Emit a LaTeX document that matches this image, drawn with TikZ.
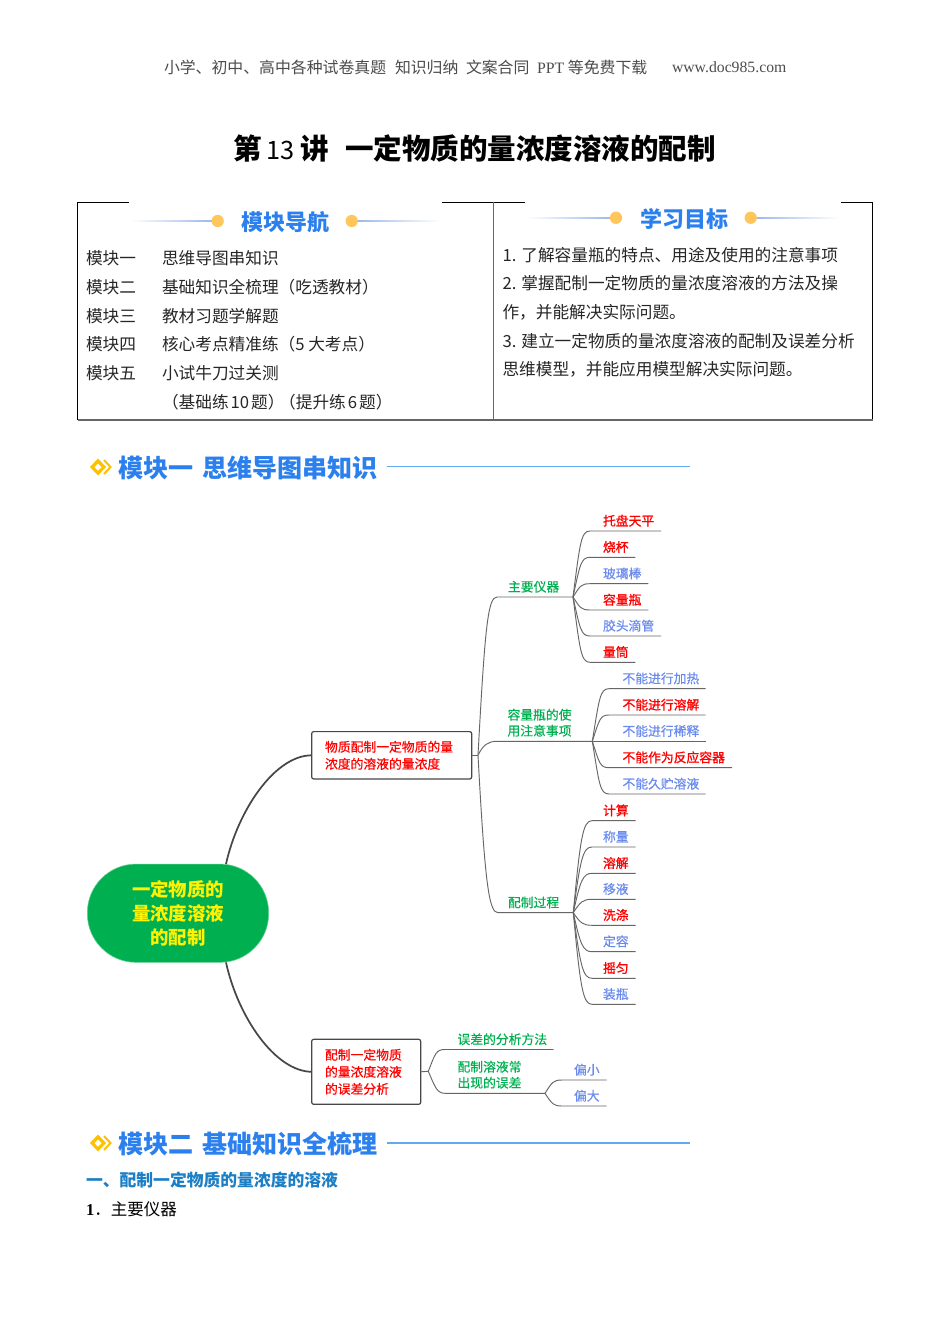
\documentclass[tikz,border=0pt]{standalone}
\usepackage{fontspec}
\setmainfont{Noto Sans CJK SC}
\newfontfamily\serifl{Liberation Serif}
\newfontfamily\medf[FakeBold=0.5]{Noto Sans CJK SC}
\newfontfamily\redf[FakeBold=1.1]{Noto Sans CJK SC}
\usetikzlibrary{calc}
\definecolor{mgreen}{HTML}{00B050}
\definecolor{mred}{HTML}{FF0000}
\definecolor{mblue}{HTML}{6A8BEE}
\definecolor{hblue}{HTML}{2B80EE}
\definecolor{hline}{HTML}{62AAF0}
\definecolor{sblue}{HTML}{1C7FC6}
\definecolor{dotc}{HTML}{FFC65C}
\definecolor{navl}{HTML}{9DB8EA}
\definecolor{iconc}{HTML}{FFC000}
\newcommand{\fs}[2]{\fontsize{#1}{#2}\selectfont}
\tikzset{
  every node/.style={inner sep=0pt,outer sep=0pt},
  lbl/.style={anchor=west,align=left,font=\fs{9.6}{12}\medf},
  gtxt/.style={lbl,text=mgreen},
  rtxt/.style={lbl,text=mred,font=\fs{9.6}{12}\redf},
  btxt/.style={lbl,text=mblue},
  listtxt/.style={anchor=west,font=\fs{12.5}{15},text=black!85},
  hdr/.style={anchor=west,font=\fs{11.9}{14},text=black!70},
  navtitle/.style={anchor=center,font=\fs{16.5}{20}\bfseries,text=hblue},
  modtitle/.style={anchor=west,font=\fs{18.8}{23}\bfseries,text=hblue},
  branch/.style={draw=black!60,line width=0.7pt},
  mainconn/.style={draw=black!72,line width=1.3pt},
  boxn/.style={draw=black!72,line width=0.9pt,rounded corners=1.5pt,fill=white,text=mred,align=left,font=\fs{9.6}{12.8}\medf,inner xsep=10pt,anchor=center},
  frameln/.style={draw=black,line width=0.6pt},
  frameg/.style={draw=black!60,line width=0.8pt},
}
% name, junction, start x, y, end x, text x, style, text
\newcommand{\leaf}[8]{%
  \coordinate (#1s) at (#3,#4);
  \coordinate (#1e) at (#5,#4);
  \node[#7] (#1) at (#6,#4-10.3) {#8};
  \draw[branch] (#2) .. controls ($(#2)!0.82!(#2 |- #1s)+(7,0)$) and ($(#1s)+(-9,0)$) .. (#1s) -- (#1e);
}
\newcommand{\modicon}[3]{%
  \fill[iconc] (#2-8,#3) -- (#2,#3-8.5) -- (#2+8,#3) -- (#2,#3+8.5) -- cycle;
  \fill[white] (#2-3.5,#3) -- (#2,#3-3.5) -- (#2+3.5,#3) -- (#2,#3+3.5) -- cycle;
  \coordinate (#1a) at (#2+6,#3-7);
  \coordinate (#1b) at (#2+12.5,#3);
  \coordinate (#1c) at (#2+6,#3+7);
  \draw[iconc,line width=1.5pt] (#1a) -- (#1b) -- (#1c);
}
\begin{document}
\begin{tikzpicture}[x=0.75pt,y=-0.75pt]
\useasboundingbox (0,0) rectangle (950,1344);
\fill[white] (0,0) rectangle (950,1344);

% page header
\node[hdr] (h1) at (164,67) {小学、初中、高中各种试卷真题};
\node[hdr] (h2) at (395,67) {知识归纳};
\node[hdr] (h3) at (466,67) {文案合同};
\node[hdr] (h4) at (537,67) {{\serifl PPT} 等免费下载};
\node[hdr,font=\fs{11.8}{14}\serifl] (h5) at (672,67) {www.doc985.com};

% title
\node[anchor=west,font=\fs{21.4}{26}\bfseries] (t1) at (233,149) {第\hspace{4pt}{\fs{19}{26}\mdseries 13}\hspace{4pt}讲};
\node[anchor=west,font=\fs{21.4}{26}\bfseries] (t2) at (345,149) {一定物质的量浓度溶液的配制};

% table frame
\draw[frameln] (129,202.5) -- (77.5,202.5) -- (77.5,420);
\draw[frameln] (442,202.5) -- (525,202.5);
\draw[frameln] (841,202.5) -- (872.8,202.5) -- (872.8,420);
\draw[frameg] (77.5,420) -- (872.8,420);
\draw[frameg] (493.3,202.5) -- (493.3,420);

% nav title
\shade[left color=white,right color=navl] (130,220.4) rectangle (212,221.8);
\shade[left color=navl,right color=white] (357,220.4) rectangle (441,221.8);
\fill[dotc] (217.7,221) circle[radius=4.6pt];
\fill[dotc] (351.7,221) circle[radius=4.6pt];
\node[navtitle] (nav) at (285.5,222) {模块导航};
\shade[left color=white,right color=navl] (526,217.1) rectangle (611,218.5);
\shade[left color=navl,right color=white] (756,217.1) rectangle (840,218.5);
\fill[dotc] (616,217.8) circle[radius=4.6pt];
\fill[dotc] (750.7,217.8) circle[radius=4.6pt];
\node[navtitle] (goal) at (684.5,219) {学习目标};

% module list
\node[listtxt] (m1a) at (86,258) {模块一};
\node[listtxt] (m1b) at (162,258) {思维导图串知识};
\node[listtxt] (m2a) at (86,287) {模块二};
\node[listtxt] (m2b) at (162,287) {基础知识全梳理（吃透教材）};
\node[listtxt] (m3a) at (86,316) {模块三};
\node[listtxt] (m3b) at (162,316) {教材习题学解题};
\node[listtxt] (m4a) at (86,344) {模块四};
\node[listtxt] (m4b) at (162,344) {核心考点精准练（5 大考点）};
\node[listtxt] (m5a) at (86,373) {模块五};
\node[listtxt] (m5b) at (162,373) {小试牛刀过关测};
\node[listtxt] (m6b) at (162,402) {（基础练\hspace{1.5pt}10\hspace{1.5pt}题）\hspace{-4pt}（提升练\hspace{1.5pt}6\hspace{1.5pt}题）};

% goals
\node[listtxt] (g1) at (502.5,255.5) {1. 了解容量瓶的特点、用途及使用的注意事项};
\node[listtxt] (g2) at (502.5,283.5) {2. 掌握配制一定物质的量浓度溶液的方法及操};
\node[listtxt] (g3) at (502.5,312) {作，并能解决实际问题。};
\node[listtxt] (g4) at (502.5,341) {3. 建立一定物质的量浓度溶液的配制及误差分析};
\node[listtxt] (g5) at (502.5,369.5) {思维模型，并能应用模型解决实际问题。};

% module one heading
\modicon{ia}{98}{467}
\node[modtitle] (mod1) at (118,467.5) {模块一\hspace{7pt}思维导图串知识};
\coordinate (mod1e) at (690,466.5);
\draw[hline,line width=1.2pt] (387,466.5) -- (mod1e);

% mind map nodes
\node[fill=mgreen,draw=mgreen!60,line width=0.4pt,minimum width=136pt,minimum height=73.7pt,rounded corners=36.5pt,align=center,text=yellow,font=\fs{13.8}{18}\bfseries] (root) at (178,913.2) {一定物质的\\量浓度溶液\\的配制};
\node[boxn,minimum width=120pt,minimum height=35.5pt,text width=100pt] (b1) at (391.7,755.3) {物质配制一定物质的量\\浓度的溶液的量浓度};
\node[boxn,minimum width=81.8pt,minimum height=48.7pt,text width=61.8pt] (b2) at (366.2,1071.8) {配制一定物质\\的量浓度溶液\\的误差分析};

\coordinate (ra) at (226,864);
\coordinate (rb) at (226,962.4);
\draw[mainconn] (ra) .. controls (238,810) and (275,755.3) .. (b1.west);
\draw[mainconn] (rb) .. controls (238,1017) and (275,1071.3) .. (b2.west);

% trunk of box 1
\coordinate (j1) at (478,755.3);
\draw[branch] (b1.east) -- (j1);
\coordinate (k1) at (573,597);
\coordinate (k2) at (592.3,741.3);
\coordinate (k3) at (573.3,912.7);
\leaf{n1}{j1}{497}{597}{573}{508}{gtxt}{主要仪器}
\node[gtxt] (n2) at (507.5,722.7) {容量瓶的使\\用注意事项};
\coordinate (n2s) at (497,741.3);
\draw[branch] (j1) .. controls (483,745) and (488,741.3) .. (n2s) -- (k2);
\leaf{n3}{j1}{498}{912.7}{573.3}{508}{gtxt}{配制过程}

% instruments
\leaf{a1}{k1}{590}{531}{661}{603}{rtxt}{托盘天平}
\leaf{a2}{k1}{590}{557.3}{635.3}{603}{rtxt}{烧杯}
\leaf{a3}{k1}{590}{583.7}{648.3}{603}{btxt}{玻璃棒}
\leaf{a4}{k1}{590}{610}{648.3}{603}{rtxt}{容量瓶}
\leaf{a5}{k1}{590}{636}{661}{603}{btxt}{胶头滴管}
\leaf{a6}{k1}{590}{662.3}{635.3}{603}{rtxt}{量筒}

% flask notes
\leaf{c1}{k2}{609}{688.7}{705.7}{622.5}{btxt}{不能进行加热}
\leaf{c2}{k2}{609}{715}{705.7}{622.5}{rtxt}{不能进行溶解}
\coordinate (c3e) at (705.7,741.3);
\draw[branch] (k2) -- (c3e);
\node[btxt] (c3) at (622.5,731) {不能进行稀释};
\leaf{c4}{k2}{609}{767.7}{732}{622.5}{rtxt}{不能作为反应容器}
\leaf{c5}{k2}{609}{794}{705.7}{622.5}{btxt}{不能久贮溶液}

% procedure
\leaf{d1}{k3}{592}{820.7}{635.7}{603}{rtxt}{计算}
\leaf{d2}{k3}{592}{847}{635.7}{603}{btxt}{称量}
\leaf{d3}{k3}{592}{873.3}{635.7}{603}{rtxt}{溶解}
\leaf{d4}{k3}{592}{899.3}{635.7}{603}{btxt}{移液}
\leaf{d5}{k3}{592}{925.3}{635.7}{603}{rtxt}{洗涤}
\leaf{d6}{k3}{592}{951.7}{635.7}{603}{btxt}{定容}
\leaf{d7}{k3}{592}{978.3}{635.7}{603}{rtxt}{摇匀}
\leaf{d8}{k3}{592}{1004.3}{635.7}{603}{btxt}{装瓶}

% box 2 branches
\coordinate (j2) at (428.3,1071.3);
\draw[branch] (b2.east) -- (j2);
\coordinate (k4) at (545,1093.3);
\leaf{e1}{j2}{445}{1049.5}{553.7}{457.5}{gtxt}{误差的分析方法}
\node[gtxt] (e2) at (457.5,1074.7) {配制溶液常\\出现的误差};
\coordinate (e2s) at (445,1093.3);
\draw[branch] (j2) .. controls (435,1087) and (437,1093.3) .. (e2s) -- (k4);
\leaf{f1}{k4}{562}{1080}{606.7}{574}{btxt}{偏小}
\leaf{f2}{k4}{562}{1106}{606.7}{574}{btxt}{偏大}

% module two heading
\modicon{ib}{98}{1143}
\node[modtitle] (mod2) at (118,1144) {模块二\hspace{7pt}基础知识全梳理};
\coordinate (mod2e) at (690,1143);
\draw[hline,line width=1.2pt] (387,1143) -- (mod2e);

\node[anchor=west,font=\fs{12.6}{15}\bfseries,text=sblue] (sec1) at (86,1180.5) {一、配制一定物质的量浓度的溶液};
\node[anchor=west,font=\fs{12.4}{15}] (sec2) at (86,1209) {{\serifl\bfseries 1}．主要仪器};
\end{tikzpicture}
\end{document}
